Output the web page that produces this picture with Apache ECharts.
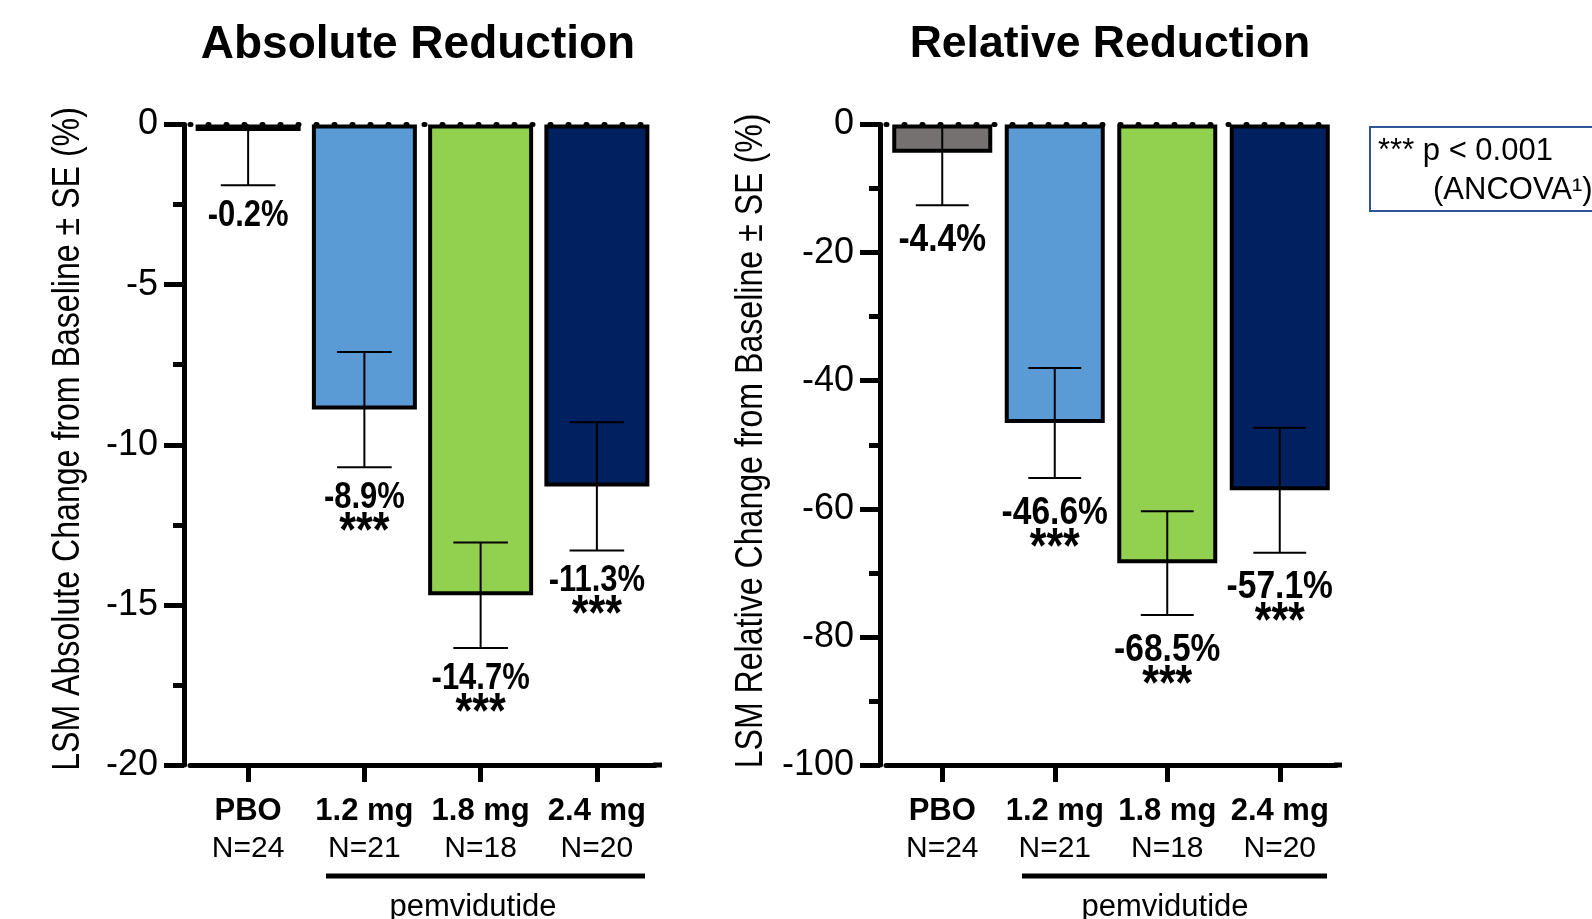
<!DOCTYPE html>
<html>
<head>
<meta charset="utf-8">
<script src="https://cdn.jsdelivr.net/npm/echarts@6/dist/echarts.min.js"></script>
<style>
  html, body { margin: 0; padding: 0; background: #fff; }
  #main { width: 1592px; height: 919px; }
</style>
</head>
<body>
<div id="main"></div>
<script>
// data
const groups = ['PBO', '1.2 mg', '1.8 mg', '2.4 mg']
const sizes = ['N=24', 'N=21', 'N=18', 'N=20']
const absMean = [-0.2, -8.9, -14.7, -11.3]
const absSE = [1.7, 1.8, 1.65, 2.0]
const relMean = [-4.4, -46.6, -68.5, -57.1]
const relSE = [8.2, 8.6, 8.1, 9.75]
const stars = ['', '***', '***', '***']
const barColors = ['#767171', '#5B9BD5', '#92D050', '#002060']
const absTicks = [-20, 0, 5]   // min, max, step
const relTicks = [-100, 0, 20]

const SANS = "'Liberation Sans', Arial, sans-serif"
// no narrow face installed, so the condensed look is faked with scaleX
const SQUEEZE = 0.86

const chart = echarts.init(document.getElementById('main'))

const makeYAxis = (idx, ticks, offset) => ({
  type: 'value',
  gridIndex: idx,
  min: ticks[0],
  max: ticks[1],
  interval: ticks[2],
  offset: offset,
  axisLine: { show: true, lineStyle: { color: '#000', width: 5 } },
  axisTick: { show: true, length: 20, lineStyle: { color: '#000', width: 5 } },
  minorTick: { show: true, splitNumber: 2, length: 11, lineStyle: { color: '#000', width: 5 } },
  axisLabel: { margin: 26, fontFamily: SANS, fontSize: 36, color: '#000' },
  splitLine: { show: false }
})

const makeXAxis = (idx) => ({
  type: 'category',
  gridIndex: idx,
  data: groups,
  axisLine: { show: true, onZero: false, lineStyle: { color: '#000', width: 5 } },
  axisTick: { show: true, alignWithLabel: true, length: 17, lineStyle: { color: '#000', width: 5 } },
  axisLabel: {
    margin: 27,
    interval: 0,
    formatter: (v, i) => '{b|' + v + '}\n{n|' + sizes[i] + '}',
    rich: {
      b: { fontFamily: SANS, fontWeight: 'bold', fontSize: 31, lineHeight: 38, color: '#000' },
      n: { fontFamily: SANS, fontSize: 30, lineHeight: 38, color: '#000' }
    }
  }
})

const barSeries = (idx, means, width) => ({
  type: 'bar',
  xAxisIndex: idx,
  yAxisIndex: idx,
  barWidth: width,
  z: 2,
  data: means.map((v, i) => ({
    value: v,
    itemStyle: { color: barColors[i], borderColor: '#000', borderWidth: 4 }
  }))
})

const errorSeries = (idx, means, ses, labelSize, labelGap, starGap) => ({
  type: 'custom',
  xAxisIndex: idx,
  yAxisIndex: idx,
  z: 5,
  data: means.map((m, i) => [i, m, ses[i]]),
  renderItem: (params, api) => {
    const i = api.value(0)
    const m = api.value(1)
    const se = api.value(2)
    const top = api.coord([i, Math.min(0, m + se)])
    const bot = api.coord([i, m - se])
    const half = api.size([1, 0])[0] * 0.235
    const ls = { stroke: '#000', lineWidth: 2 }
    const children = [
      { type: 'line', shape: { x1: top[0], y1: top[1], x2: bot[0], y2: bot[1] }, style: ls },
      { type: 'line', shape: { x1: bot[0] - half, y1: bot[1], x2: bot[0] + half, y2: bot[1] }, style: ls }
    ]
    if (m + se < 0) {
      children.push({ type: 'line', shape: { x1: top[0] - half, y1: top[1], x2: top[0] + half, y2: top[1] }, style: ls })
    }
    let txt = '{v|' + m.toFixed(1) + '%}'
    if (stars[params.dataIndex]) txt += '\n{s|' + stars[params.dataIndex] + '}'
    children.push({
      type: 'text',
      x: bot[0],
      y: bot[1] + labelGap,
      scaleX: SQUEEZE,
      style: {
        text: txt,
        align: 'center',
        verticalAlign: 'top',
        rich: {
          v: { fontFamily: SANS, fontWeight: 'bold', fontSize: labelSize, lineHeight: 30, color: '#000', align: 'center' },
          s: { fontFamily: SANS, fontWeight: 'bold', fontSize: 50, lineHeight: starGap, color: '#000', align: 'center' }
        }
      }
    })
    return { type: 'group', children: children }
  },
  markLine: {
    silent: true,
    symbol: ['none', 'none'],
    label: { show: false },
    lineStyle: { color: '#000', width: 5, type: [1, 17], cap: 'round' },
    data: [{ yAxis: 0 }]
  }
})

const axisName = (x, y, text) => ({
  type: 'text',
  x: x,
  y: y,
  rotation: Math.PI / 2,
  scaleX: 0.845,
  style: { text: text, font: '38px ' + SANS, fill: '#000', align: 'center', verticalAlign: 'middle' }
})

const option = {
  backgroundColor: '#fff',
  animation: false,
  grid: [
    { left: 190, top: 124.5, width: 465, height: 640.5 },
    { left: 886, top: 124.5, width: 450, height: 640.5 }
  ],
  xAxis: [makeXAxis(0), makeXAxis(1)],
  yAxis: [makeYAxis(0, absTicks, 6), makeYAxis(1, relTicks, 6)],
  series: [
    barSeries(0, absMean, 105),
    errorSeries(0, absMean, absSE, 36, 16, 40),
    barSeries(1, relMean, 100),
    errorSeries(1, relMean, relSE, 39, 20, 42)
  ],
  graphic: [
    { type: 'text', x: 418, y: 45, style: { text: 'Absolute Reduction', font: 'bold 46px ' + SANS, fill: '#000', align: 'center', verticalAlign: 'middle' } },
    { type: 'text', x: 1110, y: 45, style: { text: 'Relative Reduction', font: 'bold 44.5px ' + SANS, fill: '#000', align: 'center', verticalAlign: 'middle' } },
    axisName(69, 439, 'LSM Absolute Change from Baseline \u00b1 SE (%)'),
    axisName(752, 441, 'LSM Relative Change from Baseline \u00b1 SE (%)'),
    // axis line runs a little past the last category
    { type: 'line', shape: { x1: 653, y1: 765, x2: 662, y2: 765 }, style: { stroke: '#000', lineWidth: 5 } },
    { type: 'line', shape: { x1: 1334, y1: 765, x2: 1342, y2: 765 }, style: { stroke: '#000', lineWidth: 5 } },
    // pemvidutide brackets
    { type: 'line', shape: { x1: 326, y1: 876, x2: 645, y2: 876 }, style: { stroke: '#000', lineWidth: 5 } },
    { type: 'text', x: 473, y: 907, style: { text: 'pemvidutide', font: '31px ' + SANS, fill: '#000', align: 'center', verticalAlign: 'middle' } },
    { type: 'line', shape: { x1: 1022, y1: 876, x2: 1327, y2: 876 }, style: { stroke: '#000', lineWidth: 5 } },
    { type: 'text', x: 1165, y: 907, style: { text: 'pemvidutide', font: '31px ' + SANS, fill: '#000', align: 'center', verticalAlign: 'middle' } },
    // significance note
    { type: 'rect', shape: { x: 1370, y: 127, width: 260, height: 84 }, style: { fill: '#fff', stroke: '#2F5597', lineWidth: 2 } },
    { type: 'text', x: 1378, y: 151, style: { text: '*** p < 0.001', font: '31px ' + SANS, fill: '#000', align: 'left', verticalAlign: 'middle' } },
    { type: 'text', x: 1433, y: 190, style: { text: '(ANCOVA\u00b9)', font: '31px ' + SANS, fill: '#000', align: 'left', verticalAlign: 'middle' } }
  ]
}

chart.setOption(option)
</script>
</body>
</html>
